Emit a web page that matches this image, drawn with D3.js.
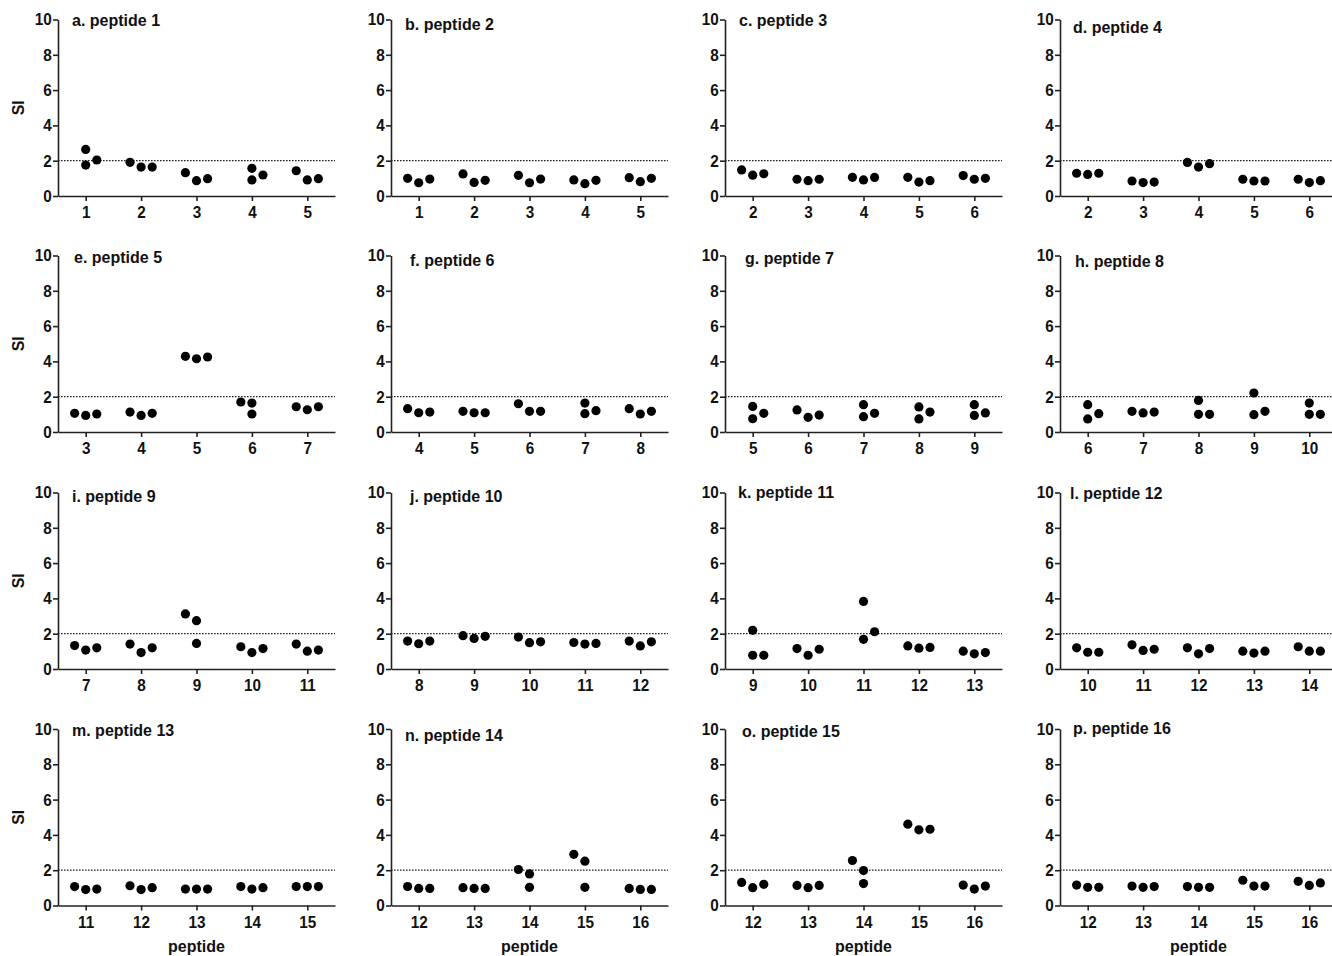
<!DOCTYPE html>
<html><head><meta charset="utf-8">
<script src="https://cdn.jsdelivr.net/npm/d3@7"></script>
<style>
body{margin:0;background:#fff;}
text{font-family:"Liberation Sans",Arial,sans-serif;font-weight:bold;fill:#111;}
</style></head>
<body><svg id="chart" width="1332" height="956"></svg>
<script>
// ---- data ----
const panelTitles = ["a. peptide 1","b. peptide 2","c. peptide 3","d. peptide 4",
  "e. peptide 5","f. peptide 6","g. peptide 7","h. peptide 8",
  "i. peptide 9","j. peptide 10","k. peptide 11","l. peptide 12",
  "m. peptide 13","n. peptide 14","o. peptide 15","p. peptide 16"];
const panelCategories = [[1,2,3,4,5],[1,2,3,4,5],[2,3,4,5,6],[2,3,4,5,6],
  [3,4,5,6,7],[4,5,6,7,8],[5,6,7,8,9],[6,7,8,9,10],
  [7,8,9,10,11],[8,9,10,11,12],[9,10,11,12,13],[10,11,12,13,14],
  [11,12,13,14,15],[12,13,14,15,16],[12,13,14,15,16],[12,13,14,15,16]];
const yTicks = [0,2,4,6,8,10];
const threshold = 2;
const xLabel = "peptide";
const yLabel = "SI";

// SI values, three replicates per category
const siA = [[2.64,1.75,2.04],[1.91,1.64,1.64],[1.32,0.87,0.98],[1.57,0.91,1.19],[1.43,0.91,0.98]];
const siB = [[1.00,0.75,0.96],[1.25,0.77,0.89],[1.17,0.75,0.96],[0.91,0.70,0.89],[1.04,0.81,1.00]];
const siC = [[1.48,1.18,1.26],[0.95,0.87,0.95],[1.06,0.91,1.05],[1.06,0.79,0.87],[1.16,0.95,1.00]];
const siD = [[1.29,1.22,1.29],[0.85,0.76,0.79],[1.90,1.64,1.83],[0.95,0.85,0.85],[0.95,0.76,0.87]];
const siE = [[1.06,0.94,1.02],[1.13,0.94,1.06],[4.29,4.15,4.25],[1.70,1.64,1.02],[1.43,1.26,1.43]];
const siF = [[1.32,1.09,1.13],[1.17,1.09,1.09],[1.60,1.17,1.17],[1.64,1.04,1.21],[1.32,1.02,1.17]];
const siG = [[1.45,0.75,1.06],[1.25,0.83,0.96],[1.55,0.87,1.06],[1.42,0.74,1.13],[1.55,0.94,1.08]];
const siH = [[1.55,0.74,1.04],[1.17,1.08,1.13],[1.79,1.00,1.00],[2.21,0.98,1.17],[1.64,1.00,1.00]];
const siI = [[1.33,1.07,1.20],[1.41,0.93,1.20],[3.12,2.74,1.45],[1.26,0.93,1.16],[1.41,1.01,1.07]];
const siJ = [[1.58,1.43,1.58],[1.89,1.73,1.85],[1.81,1.49,1.54],[1.50,1.41,1.45],[1.58,1.31,1.54]];
const siK = [[2.19,0.78,0.78],[1.16,0.78,1.12],[3.83,1.68,2.11],[1.31,1.18,1.22],[1.01,0.86,0.93]];
const siL = [[1.20,0.95,0.95],[1.37,1.05,1.12],[1.20,0.86,1.16],[1.01,0.90,1.01],[1.26,1.01,1.01]];
const siM = [[1.07,0.90,0.93],[1.12,0.90,1.01],[0.93,0.93,0.93],[1.07,0.93,1.01],[1.07,1.07,1.07]];
const siN = [[1.07,0.97,0.97],[1.01,0.97,0.97],[2.04,1.79,1.03],[2.90,2.51,1.03],[0.97,0.91,0.91]];
const siO = [[1.31,1.01,1.20],[1.14,1.01,1.14],[2.55,1.98,1.24],[4.61,4.29,4.32],[1.16,0.93,1.10]];
const siP = [[1.16,1.03,1.03],[1.10,1.03,1.07],[1.07,1.03,1.03],[1.43,1.10,1.10],[1.37,1.14,1.28]];
const siValues = [siA,siB,siC,siD,siE,siF,siG,siH,siI,siJ,siK,siL,siM,siN,siO,siP];

// scatter slot of each replicate within its column (-1 left, 0 centre, 1 right)
const S = [-1,0,1], T = [0,0,1], U = [-1,0,0];
const slotA = [T,S,S,T,S], slotB = [S,S,S,S,S], slotC = [S,S,S,S,S], slotD = [S,S,S,S,S];
const slotE = [S,S,S,U,S], slotF = [S,S,S,T,S], slotG = [T,S,T,T,T], slotH = [T,S,T,T,T];
const slotI = [S,S,U,S,S], slotJ = [S,S,S,S,S], slotK = [T,S,T,S,S], slotL = [S,S,S,S,S];
const slotM = [S,S,S,S,S], slotN = [S,S,U,U,S], slotO = [S,S,U,S,S], slotP = [S,S,S,S,S];
const slots = [slotA,slotB,slotC,slotD,slotE,slotF,slotG,slotH,slotI,slotJ,slotK,slotL,slotM,slotN,slotO,slotP];

// ---- layout ----
const colX = [58, 391, 725, 1060];
const rowBottom = [196, 432, 669, 905.5];
const plotW = 277, plotH = 176.5;
const titleDx = [14,14,14,13, 16,19,20,15, 14,19,13,10, 14,14,17,13];
const titleDy = [1,5,1,8, 2,5,3,6, 4,4,0,1, 2,7,3,0];

const svg = d3.select("#chart");

panelTitles.forEach((title, p) => {
  const r = Math.floor(p / 4), c = p % 4;
  const x0 = colX[c], yb = rowBottom[r];
  const cats = panelCategories[p];
  const g = svg.append("g").attr("transform", `translate(${x0},${yb - plotH})`);
  const x = d3.scaleLinear().domain([cats[0] - 0.5, cats[cats.length - 1] + 0.5]).range([0, plotW]);
  const y = d3.scaleLinear().domain([0, 10]).range([plotH, 0]);

  // threshold line
  g.append("line")
    .attr("x1", x.range()[0]).attr("x2", x.range()[1])
    .attr("y1", y(threshold)).attr("y2", y(threshold))
    .attr("stroke", "#222").attr("stroke-width", 1.3).attr("stroke-dasharray", "1.6,1.4");

  const ya = g.append("g").call(d3.axisLeft(y).tickValues(yTicks).tickSize(5).tickSizeOuter(0).tickPadding(2));
  const xa = g.append("g").attr("transform", `translate(0,${plotH})`)
    .call(d3.axisBottom(x).tickValues(cats).tickFormat(d3.format("d")).tickSize(5).tickSizeOuter(0).tickPadding(5));
  [ya, xa].forEach(a => {
    a.selectAll("path,line").attr("stroke", "#222").attr("stroke-width", 1.6);
    a.selectAll("text").style("font-size", "17px").style("font-family", "'Liberation Sans',Arial,sans-serif")
      .style("font-weight", "bold").attr("fill", "#111");
  });
  ya.selectAll("text").attr("transform", "scale(0.9,1)");
  xa.selectAll("text").attr("transform", "scale(0.9,1)");

  // points
  const pts = [];
  siValues[p].forEach((vals, ci) => {
    vals.forEach((v, k) => pts.push({cat: cats[ci], slot: slots[p][ci][k], v}));
  });
  g.selectAll("circle").data(pts).join("circle")
    .attr("cx", d => x(d.cat + d.slot * 0.2))
    .attr("cy", d => y(d.v))
    .attr("r", 4.6).attr("fill", "#000");

  // title
  g.append("text").attr("x", titleDx[p]).attr("y", titleDy[p] + 5)
    .style("font-size", "16px").text(title);

  if (c === 0) {
    g.append("text").attr("transform", `translate(${-34},${plotH / 2}) rotate(-90)`)
      .attr("text-anchor", "middle").style("font-size", "16px").text(yLabel);
  }
  if (r === 3) {
    g.append("text").attr("x", plotW / 2).attr("y", plotH + 46)
      .attr("text-anchor", "middle").style("font-size", "16px").text(xLabel);
  }
});
</script></body></html>
